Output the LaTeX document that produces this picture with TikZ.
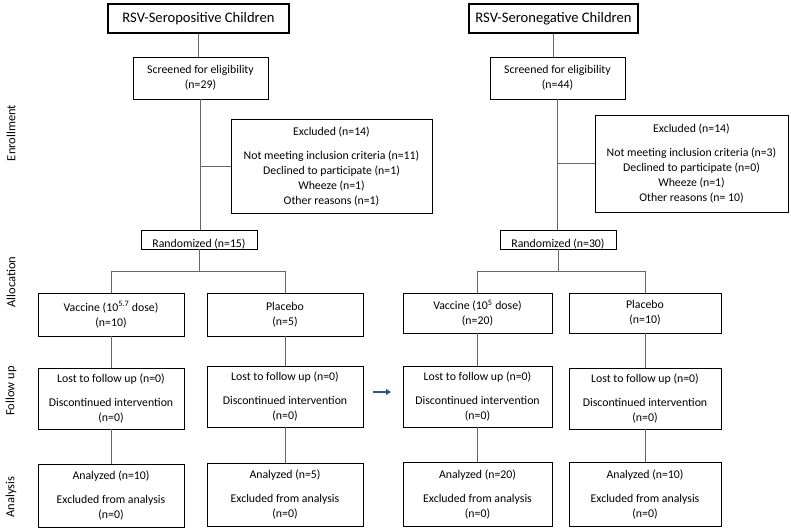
\documentclass[tikz,border=0pt]{standalone}
\usepackage{fontspec}
\setmainfont{Carlito}
\usetikzlibrary{arrows.meta}
\tikzset{
  box/.style={draw=black, line width=0.9pt, align=center, inner sep=0pt, font=\fontsize{11.8}{15}\selectfont},
  titlebox/.style={box, line width=1.3pt, font=\fontsize{14.6}{16}\selectfont},
  link/.style={draw=black!60, line width=0.9pt},
  phase/.style={rotate=90, font=\fontsize{12.5}{14}\selectfont}
}
\newcommand\gap{\\[9pt]}
\newcommand\lowtext[1]{\raisebox{-8pt}[0pt][0pt]{#1}}

\begin{document}
\begin{tikzpicture}[x=1pt,y=-1pt]
	% page frame
	\useasboundingbox (0,0) rectangle (791,530);
	% phases on the left
	\node[phase] (enrol) at (11,133) {Enrollment};
	\node[phase] (alloc) at (11,282) {Allocation};
	\node[phase] (follow) at (11,391) {Follow up};
	\node[phase] (anal) at (11,497) {Analysis};
	% the seropositive arm
	\node[titlebox, minimum width=181, minimum height=29] (posT) at (198.5,18.5) {RSV-Seropositive Children};
	\node[box, minimum width=135, minimum height=42] (posS) at (200.5,78) {Screened for eligibility\\(n=29)};
	\node[box, minimum width=201, minimum height=94] (posX) at (331.5,166) {Excluded (n=14)\gap Not meeting inclusion criteria (n=11)\\Declined to participate (n=1)\\Wheeze (n=1)\\Other reasons (n=1)};
	\node[box, minimum width=116, minimum height=19] (posR) at (199,239.5) {\lowtext{Randomized (n=15)}};
	\node[box, minimum width=146, minimum height=43] (posV) at (111,314.5) {Vaccine (10\textsuperscript{5.7} dose)\\(n=10)};
	\node[box, minimum width=156, minimum height=43] (posP) at (285,314.5) {Placebo\\(n=5)};
	\node[box, minimum width=146, minimum height=61] (posVF) at (111,398.5) {Lost to follow up (n=0)\gap Discontinued intervention\\(n=0)};
	\node[box, minimum width=156, minimum height=61] (posPF) at (285,396.5) {Lost to follow up (n=0)\gap Discontinued intervention\\(n=0)};
	\node[box, minimum width=146, minimum height=63] (posVA) at (111,495.5) {Analyzed (n=10)\gap Excluded from analysis\\(n=0)};
	\node[box, minimum width=156, minimum height=63] (posPA) at (285,494.5) {Analyzed (n=5)\gap Excluded from analysis\\(n=0)};
	% the seronegative arm
	\node[titlebox, minimum width=169, minimum height=29] (negT) at (553.5,18.5) {RSV-Seronegative Children};
	\node[box, minimum width=135, minimum height=42] (negS) at (557.5,78) {Screened for eligibility\\(n=44)};
	\node[box, minimum width=193, minimum height=97] (negX) at (691.5,163.5) {Excluded (n=14)\gap Not meeting inclusion criteria (n=3)\\Declined to participate (n=0)\\Wheeze (n=1)\\Other reasons (n= 10)};
	\node[box, minimum width=116, minimum height=19] (negR) at (558,239.5) {\lowtext{Randomized (n=30)}};
	\node[box, minimum width=149, minimum height=40] (negV) at (477.5,313) {Vaccine (10\textsuperscript{5} dose)\\(n=20)};
	\node[box, minimum width=152, minimum height=40] (negP) at (645,313) {Placebo\\(n=10)};
	\node[box, minimum width=149, minimum height=61] (negVF) at (477.5,396.5) {Lost to follow up (n=0)\gap Discontinued intervention\\(n=0)};
	\node[box, minimum width=152, minimum height=61] (negPF) at (645,398.5) {Lost to follow up (n=0)\gap Discontinued intervention\\(n=0)};
	\node[box, minimum width=149, minimum height=64] (negVA) at (477.5,494) {Analyzed (n=20)\gap Excluded from analysis\\(n=0)};
	\node[box, minimum width=152, minimum height=64] (negPA) at (645,494) {Analyzed (n=10)\gap Excluded from analysis\\(n=0)};
	% connectors, seropositive
	\draw[link] (posT.south) -- (posT.south |- posS.north);
	\draw[link] (posS.south) -- (posS.south |- posR.north);
	\draw[link] (posS.south |- posX.west) -- (posX.west);
	\draw[link] (posR.south) -- ++(0,23);
	\draw[link] (posV.north) -- ++(0,-21) -| (posP.north);
	\draw[link] (posV) edge[link] (posVF) (posVF) edge[link] (posVA);
	\draw[link] (posP) edge[link] (posPF) (posPF) edge[link] (posPA);
	% connectors, seronegative
	\draw[link] (negT.south) -- (negT.south |- negS.north);
	\draw[link] (negS.south) -- (negS.south |- negR.north);
	\draw[link] (negS.south |- negX.west) -- (negX.west);
	\draw[link] (negR.south) -- ++(0,23);
	\draw[link] (negV.north) -- ++(0,-21) -| (negP.north);
	\draw[link] (negV) edge[link] (negVF) (negVF) edge[link] (negVA);
	\draw[link] (negP) edge[link] (negPF) (negPF) edge[link] (negPA);
	% the small blue arrow
	\coordinate (arrS) at (373,392);
	\coordinate (arrE) at (391,392);
	\draw[color={rgb,255:red,47;green,85;blue,151}, line width=2pt, -{Triangle[length=5pt,width=6pt]}] (arrS) -- (arrE);
\end{tikzpicture}
\end{document}
